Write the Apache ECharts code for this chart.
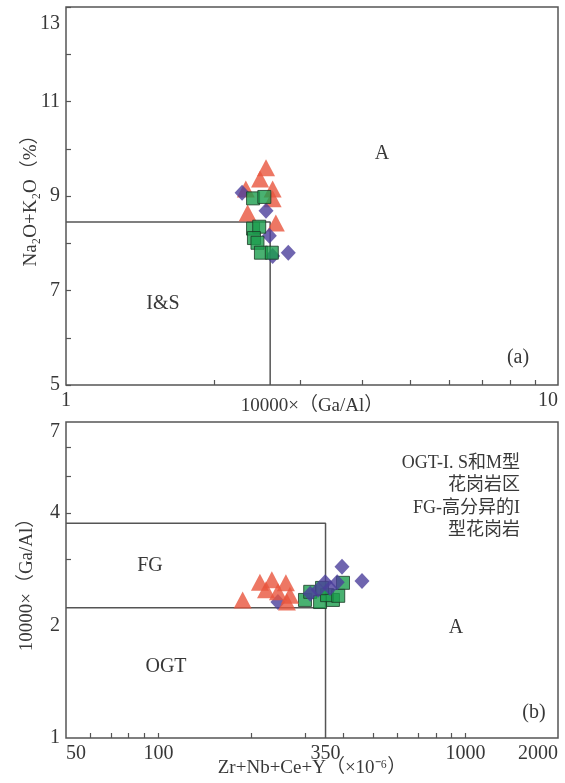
<!DOCTYPE html>
<html>
<head>
<meta charset="utf-8">
<script src="https://cdn.jsdelivr.net/npm/echarts@6/dist/echarts.min.js"></script>
<style>
html,body{margin:0;padding:0;background:#fff;}
#chart{width:565px;height:783px;}
</style>
</head>
<body>
<div id="chart"></div>
<script>
// Panel (a): 10000×Ga/Al vs Na2O+K2O (%)
const aTriangle = [[2.55,9.60],[2.48,9.36],[2.63,9.15],[2.32,9.15],[2.63,8.94],[2.34,8.64],[2.67,8.43]];
const aDiamond  = [[2.28,9.07],[2.55,8.69],[2.59,8.16],[2.83,7.80],[2.63,7.73]];
const aSquare   = [[2.40,8.95],[2.53,8.98],[2.40,8.31],[2.47,8.35],[2.41,8.11],[2.45,8.01],[2.49,7.80],[2.62,7.80]];
const aBoundary = [[1,8.45],[2.6,8.45],[2.6,5]];
const aXLabels = [1,10];
const aXTicks  = [2,3,4,5,6,7,8,9];
const aYLabels = [5,7,9,11,13];
const aYTicks  = [5,6,7,8,9,10,11,12,13];

// Panel (b): Zr+Nb+Ce+Y (×10⁻⁶) vs 10000×Ga/Al
const bTriangle = [[188,2.34],[214,2.61],[234,2.65],[260,2.60],[224,2.49],[245,2.46],[268,2.41],[262,2.31]];
const bDiamond  = [[245,2.31],[396,2.87],[460,2.63],[349,2.61],[382,2.61],[331,2.49],[362,2.52],[312,2.43]];
const bSquare   = [[300,2.34],[312,2.46],[336,2.31],[370,2.34],[399,2.60],[354,2.41],[385,2.40],[341,2.52]];
const bUpper = [[50,3.75],[350,3.75],[350,1]];
const bLower = [[50,2.23],[350,2.23]];
const bXLabels = [50,100,350,1000,2000];
const bXTicks  = [60,70,80,90,100,200,300,400,500,600,700,800,900,1000];
const bYLabels = [1,2,4,7];
const bYTicks  = [3,4,5,6];

const serif = "'Liberation Serif','Noto Sans CJK SC',serif";
const ink = '#383838';
const frame = '#555';

const triStyle = {color:'#e8553d'};
const diaStyle = {color:'#4b3e9b'};
const sqStyle  = {color:'#1b9e4e', borderColor:'#1c3a25', borderWidth:1};

function axisCommon(labels, ticks, extra) {
  return Object.assign({
    axisLine:{show:false},
    splitLine:{show:false},
    nameMoveOverlap:false,
    axisTick:{show:true, inside:true, length:5, customValues:ticks, lineStyle:{color:frame, width:1.2}},
    axisLabel:{customValues:labels, color:ink, fontFamily:serif, fontSize:20, margin:6,
               formatter:function(v){ return String(v); }}
  }, extra || {});
}

const chart = echarts.init(document.getElementById('chart'), null, {renderer:'canvas'});

function boundary(data, xi, yi) {
  return {type:'line', xAxisIndex:xi, yAxisIndex:yi, data:data, symbol:'none', silent:true,
          lineStyle:{color:frame, width:1.5}, z:1};
}
function pts(data, xi, yi, symbol, size, style) {
  return {type:'scatter', xAxisIndex:xi, yAxisIndex:yi, data:data, symbol:symbol,
          symbolSize:size, itemStyle:style, z:3};
}

const nameStyle = {color:ink, fontFamily:serif, fontSize:19};

const xa = axisCommon(aXLabels, aXTicks, {type:'log', gridIndex:0, min:1, max:10, logBase:10,
  name:'10000×（Ga/Al）', nameLocation:'middle', nameGap:12, nameTextStyle:nameStyle});
xa.axisLabel.alignMaxLabel = 'right';

const ya = axisCommon(aYLabels, aYTicks, {type:'value', gridIndex:0, min:5, max:13, interval:1,
  name:'Na₂O+K₂O（%）', nameLocation:'middle', nameGap:25, nameTextStyle:nameStyle});
ya.axisLabel.verticalAlignMaxLabel = 'top';
ya.axisLabel.lineHeight = 34;

const xb = axisCommon(bXLabels, bXTicks, {type:'log', gridIndex:1, min:50, max:2000, logBase:10,
  name:'Zr+Nb+Ce+Y（×10⁻⁶）', nameLocation:'middle', nameGap:21, nameTextStyle:nameStyle});
xb.axisLabel.alignMinLabel = 'left';
xb.axisLabel.alignMaxLabel = 'right';

const yb = axisCommon(bYLabels, bYTicks, {type:'log', gridIndex:1, min:1, max:7, logBase:10,
  name:'10000×（Ga/Al）', nameLocation:'middle', nameGap:29, nameTextStyle:nameStyle});
yb.axisLabel.verticalAlignMaxLabel = 'top';

function txt(x, y, s, size, align) {
  return {type:'text', x:x, y:y, silent:true,
          style:{text:s, fill:ink, font:(size||20)+'px '+serif, align:align||'center', verticalAlign:'middle'}};
}

chart.setOption({
  animation:false,
  backgroundColor:'#fff',
  grid:[
    {left:66, top:7, width:492, height:378, show:true, borderColor:frame, borderWidth:1.5},
    {left:66, top:422, width:492, height:316, show:true, borderColor:frame, borderWidth:1.5}
  ],
  xAxis:[xa, xb],
  yAxis:[ya, yb],
  series:[
    boundary(aBoundary,0,0),
    pts(aTriangle,0,0,'triangle',[18,17],triStyle),
    pts(aDiamond,0,0,'diamond',[15,16],diaStyle),
    pts(aSquare,0,0,'rect',13,sqStyle),
    boundary(bUpper,1,1),
    boundary(bLower,1,1),
    pts(bSquare,1,1,'rect',13,sqStyle),
    pts(bDiamond,1,1,'diamond',[15,16],diaStyle),
    pts(bTriangle,1,1,'triangle',[18,17],triStyle)
  ],
  graphic:[
    txt(382,154,'A'),
    txt(163,304,'I&S'),
    txt(518,358,'(a)'),
    txt(150,566,'FG'),
    txt(166,667,'OGT'),
    txt(456,628,'A'),
    txt(534,713,'(b)'),
    {type:'text', x:520, y:452, silent:true,
     style:{text:'OGT-I. S和M型\n花岗岩区\nFG-高分异的I\n型花岗岩', fill:ink, font:'18px '+serif,
            align:'right', verticalAlign:'top', lineHeight:22.5}}
  ]
});
</script>
</body>
</html>
